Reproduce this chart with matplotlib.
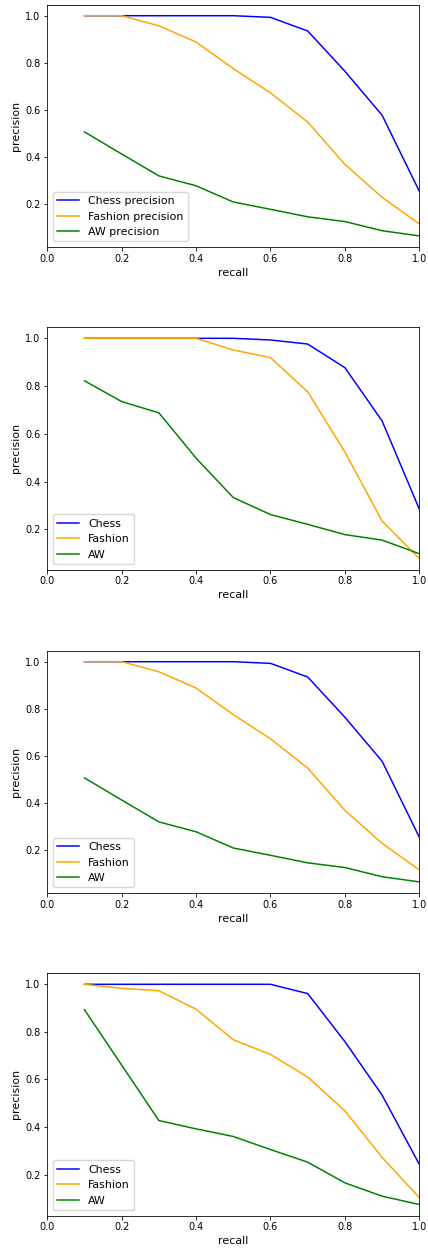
import matplotlib
matplotlib.use("Agg")
import matplotlib.pyplot as plt

recall = [0.1, 0.2, 0.3, 0.4, 0.5, 0.6, 0.7, 0.8, 0.9, 1.0]

# Panel 1 / 3 (identical)
chess_1 = [1.0, 1.0, 1.0, 1.0, 1.0, 0.993, 0.935, 0.764, 0.577, 0.254]
fashion_1 = [1.0, 1.0, 0.957, 0.888, 0.775, 0.672, 0.548, 0.368, 0.228, 0.115]
aw_1 = [0.506, 0.412, 0.319, 0.277, 0.208, 0.177, 0.145, 0.125, 0.086, 0.064]

# Panel 2
chess_2 = [1.0, 1.0, 1.0, 1.0, 1.0, 0.993, 0.976, 0.877, 0.654, 0.285]
fashion_2 = [1.0, 1.0, 1.0, 1.0, 0.951, 0.919, 0.776, 0.524, 0.235, 0.078]
aw_2 = [0.822, 0.735, 0.688, 0.498, 0.333, 0.262, 0.221, 0.178, 0.155, 0.098]

# Panel 4
chess_4 = [1.0, 1.0, 1.0, 1.0, 1.0, 1.0, 0.961, 0.759, 0.534, 0.243]
fashion_4 = [1.0, 0.983, 0.973, 0.895, 0.767, 0.705, 0.610, 0.468, 0.272, 0.103]
aw_4 = [0.893, 0.66, 0.427, 0.392, 0.360, 0.305, 0.252, 0.165, 0.109, 0.074]

labels_long = ["Chess precision", "Fashion precision", "AW precision"]
labels_short = ["Chess", "Fashion", "AW"]

panels = [
    (chess_1, fashion_1, aw_1, labels_long),
    (chess_2, fashion_2, aw_2, labels_short),
    (chess_1, fashion_1, aw_1, labels_short),
    (chess_4, fashion_4, aw_4, labels_short),
]

s = 0.72
plt.rcParams.update({
    "font.family": "DejaVu Sans",
    "font.size": 7.9,
    "xtick.labelsize": 7.0,
    "ytick.labelsize": 7.0,
    "axes.labelsize": 7.9,
    "legend.fontsize": 7.9,
    "lines.linewidth": 1.5 * s,
    "axes.linewidth": 0.8 * s,
    "xtick.major.size": 3.5 * s,
    "ytick.major.size": 3.5 * s,
    "xtick.major.width": 0.8 * s,
    "ytick.major.width": 0.8 * s,
    "xtick.major.pad": 3.5 * s,
    "ytick.major.pad": 3.5 * s,
    "axes.labelpad": 4 * s,
})

W, H = 428, 1251
fig = plt.figure(figsize=(W / 100, H / 100), dpi=100)

tops = [4.7, 327.3, 650.7, 973.3]
ax_h = 242.2
left, right = 47.3, 419.3
colors = ["blue", "orange", "green"]

for (c, f, a, labs), top in zip(panels, tops):
    ax = fig.add_axes([left / W, 1 - (top + ax_h) / H, (right - left) / W, ax_h / H])
    for series, col, lab in zip((c, f, a), colors, labs):
        ax.plot(recall, series, color=col, label=lab)
    ax.set_xlim(0, 1.0)
    ax.set_xticks([0.0, 0.2, 0.4, 0.6, 0.8, 1.0])
    ax.set_yticks([0.2, 0.4, 0.6, 0.8, 1.0])
    ax.set_xlabel("recall")
    ax.set_ylabel("precision")
    ax.legend(loc="lower left")

fig.savefig("out.png", dpi=100)
